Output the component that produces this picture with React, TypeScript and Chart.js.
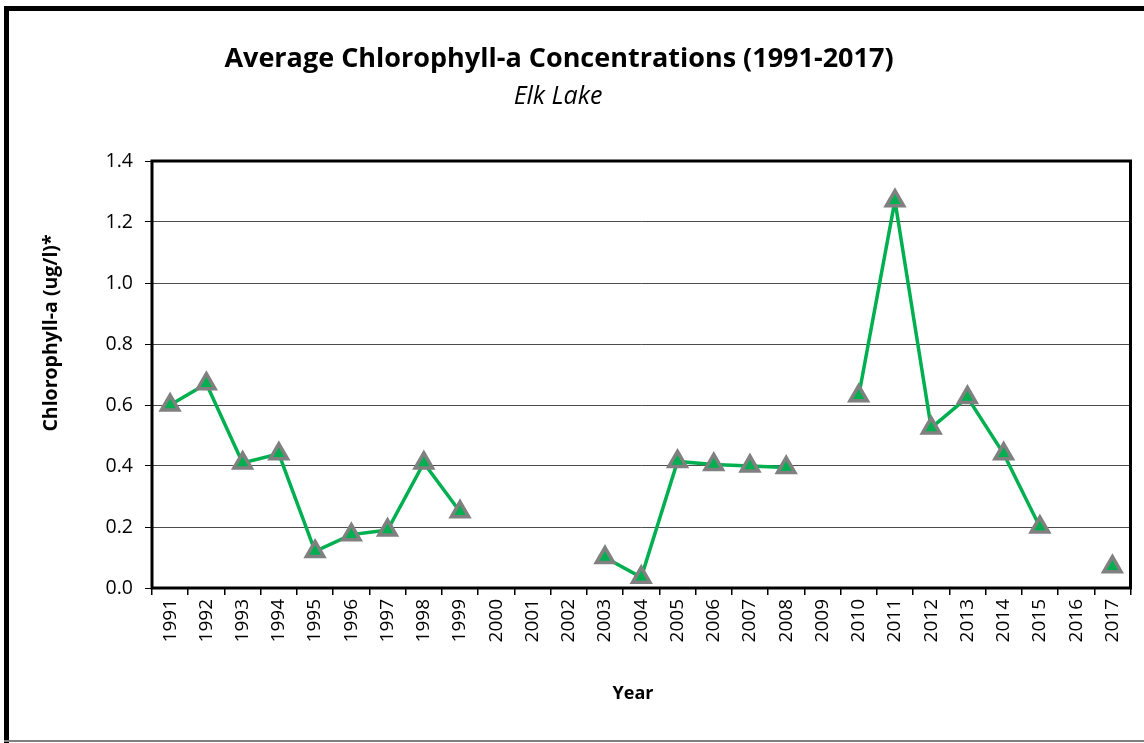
import React, { useEffect, useRef } from "react";
import { Chart, registerables } from "chart.js";

Chart.register(...registerables);

const years: string[] = [
  "1991", "1992", "1993", "1994", "1995", "1996", "1997", "1998", "1999",
  "2000", "2001", "2002", "2003", "2004", "2005", "2006", "2007", "2008",
  "2009", "2010", "2011", "2012", "2013", "2014", "2015", "2016", "2017",
];

const chlorophyll: (number | null)[] = [
  0.6, 0.67, 0.41, 0.44, 0.12, 0.175, 0.19, 0.41, 0.25,
  null, null, null, 0.1, 0.035, 0.415, 0.405, 0.4, 0.395,
  null, 0.63, 1.27, 0.525, 0.625, 0.44, 0.2, null, 0.07,
];

const yTicks: number[] = [0, 0.2, 0.4, 0.6, 0.8, 1.0, 1.2, 1.4];

const titleText = "Average Chlorophyll-a Concentrations (1991-2017)";
const subtitleText = "Elk Lake";
const yTitleText = "Chlorophyll-a (ug/l)*";
const xTitleText = "Year";

const FONT = "'Open Sans', 'Noto Sans', sans-serif";

const W = 1144;
const H = 743;
const PLOT_LEFT = 152;
const PLOT_RIGHT = 1131;
const PLOT_TOP = 161;
const PLOT_BOTTOM = 588;

const decorPlugin = {
  id: "decor",
  beforeDraw(chart: any) {
    const ctx = chart.ctx;
    ctx.save();
    ctx.fillStyle = "#ffffff";
    ctx.fillRect(0, 0, W, H);
    // outer frame
    ctx.strokeStyle = "#000000";
    ctx.lineWidth = 5;
    ctx.beginPath();
    ctx.moveTo(6.5, H);
    ctx.lineTo(6.5, 8.5);
    ctx.lineTo(W + 5, 8.5);
    ctx.stroke();
    ctx.strokeStyle = "#808080";
    ctx.lineWidth = 2;
    ctx.beginPath();
    ctx.moveTo(4, 741);
    ctx.lineTo(W, 741);
    ctx.stroke();
    ctx.restore();
  },
  afterDraw(chart: any) {
    const ctx = chart.ctx;
    const area = chart.chartArea;
    ctx.save();
    // plot frame
    ctx.strokeStyle = "#000000";
    ctx.lineWidth = 3;
    ctx.strokeRect(area.left, area.top, area.right - area.left, area.bottom - area.top);
    // titles
    ctx.fillStyle = "#000000";
    ctx.textAlign = "center";
    ctx.textBaseline = "middle";
    ctx.font = `bold 27px ${FONT}`;
    ctx.fillText(titleText, 559, 59);
    ctx.font = `italic 25px ${FONT}`;
    ctx.fillText(subtitleText, 558, 97);
    ctx.font = `bold 18px ${FONT}`;
    ctx.fillText(xTitleText, 633, 694);
    ctx.translate(51, 333);
    ctx.rotate(-Math.PI / 2);
    ctx.font = `bold 19.5px ${FONT}`;
    ctx.fillText(yTitleText, 0, 0);
    ctx.restore();
  },
};

export default function App() {
  const canvasRef = useRef<HTMLCanvasElement | null>(null);

  useEffect(() => {
    const canvas = canvasRef.current;
    if (!canvas) return;
    const chart = new Chart(canvas, {
      type: "line",
      data: {
        labels: years,
        datasets: [
          {
            data: chlorophyll,
            borderColor: "#00B050",
            borderWidth: 3.5,
            backgroundColor: "#00B050",
            pointStyle: "triangle",
            pointRadius: 10,
            pointBorderWidth: 3.5,
            pointBorderColor: "#808080",
            pointBackgroundColor: "#00B050",
            spanGaps: false,
            tension: 0,
          },
        ],
      },
      options: {
        responsive: false,
        animation: false,
        layout: {
          padding: { left: 0, top: PLOT_TOP, right: W - PLOT_RIGHT, bottom: 0 },
        },
        plugins: {
          legend: { display: false },
          title: { display: false },
          tooltip: { enabled: false },
        },
        scales: {
          x: {
            type: "category",
            offset: true,
            afterFit(scale: any) {
              scale.height = H - PLOT_BOTTOM;
            },
            grid: {
              offset: true,
              drawOnChartArea: false,
              drawTicks: true,
              tickLength: 7,
              color: "#000000",
              lineWidth: 1.5,
            },
            border: { display: false },
            ticks: {
              color: "#000000",
              font: { family: FONT, size: 19 },
              maxRotation: 90,
              minRotation: 90,
              autoSkip: false,
              padding: 4,
            },
          },
          y: {
            type: "linear",
            min: 0,
            max: 1.4,
            afterFit(scale: any) {
              scale.width = PLOT_LEFT;
            },
            afterBuildTicks(scale: any) {
              scale.ticks = yTicks.map((v) => ({ value: v }));
            },
            grid: {
              color: "#4d4d4d",
              lineWidth: 1,
              drawTicks: true,
              tickLength: 7,
              tickColor: "#000000",
            },
            border: { display: false },
            ticks: {
              color: "#000000",
              font: { family: FONT, size: 19.5 },
              padding: 12,
              callback: (v: any) => Number(v).toFixed(1),
            },
          },
        },
      },
      plugins: [decorPlugin],
    });
    return () => chart.destroy();
  }, []);

  return (
    <div style={{ position: "fixed", left: 0, top: 0, width: W, height: H, background: "#fff" }}>
      <canvas ref={canvasRef} width={W} height={H} style={{ display: "block" }} />
    </div>
  );
}
